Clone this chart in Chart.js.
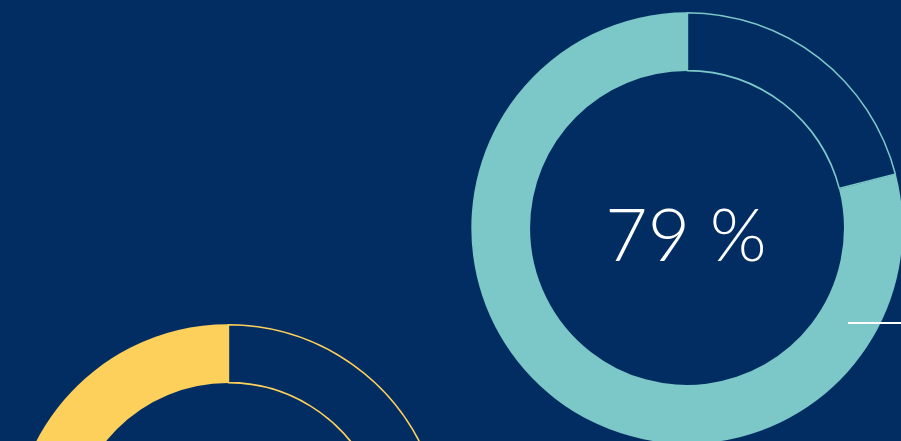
<!DOCTYPE html>
<html>
<head>
<meta charset="utf-8">
<script src="https://cdn.jsdelivr.net/npm/chart.js@4.4.0/dist/chart.umd.min.js"></script>
<style>
    html, body {
        margin: 0;
        padding: 0;
        width: 901px;
        height: 441px;
        overflow: hidden;
        background: #022d62;
    }
    canvas {
        position: absolute;
    }
    #chartTeal {
        left: 471px;
        top: 12px;
    }
    #chartAmarelo {
        left: 12px;
        top: 324px;
    }
    #linha {
        position: absolute;
        left: 848px;
        top: 322px;
        width: 53px;
        height: 2px;
        background: #ffffff;
    }
</style>
</head>
<body>
<canvas id="chartAmarelo" width="432" height="432"></canvas>
<canvas id="chartTeal" width="432" height="432"></canvas>
<div id="linha"></div>
<script>
    // valores em porcentagem
    const categorias = ['Restante', 'Valor'];
    const valorTeal = [21, 79];
    const valorAmarelo = [35, 65];
    const rotuloTeal = '79 %';

    const fundo = '#022d62';
    const corTeal = '#7cc8c8';
    const corAmarelo = '#fcd05a';

    const textoCentro = {
        id: 'textoCentro',
        afterDraw(chart, args, opts) {
            if (!opts.texto) return;
            const ctx = chart.ctx;
            const meta = chart.getDatasetMeta(0).data[0];
            ctx.save();
            ctx.fillStyle = '#ffffff';
            ctx.font = '300 73px Lato';
            ctx.textAlign = 'center';
            ctx.textBaseline = 'alphabetic';
            ctx.fillText(opts.texto, meta.x - 1, meta.y + 33);
            ctx.restore();
        }
    };

    function criarDonut(id, valores, cor, texto) {
        return new Chart(document.getElementById(id), {
            type: 'doughnut',
            data: {
                labels: categorias,
                datasets: [{
                    data: valores,
                    backgroundColor: [fundo, cor],
                    borderColor: [cor, cor],
                    borderWidth: [1.2, 0],
                    borderAlign: 'inner'
                }]
            },
            options: {
                responsive: false,
                animation: false,
                cutout: '72.5%',
                layout: { padding: 0 },
                plugins: {
                    legend: { display: false },
                    tooltip: { enabled: false },
                    textoCentro: { texto: texto }
                }
            },
            plugins: [textoCentro]
        });
    }

    var chartAmarelo1 = criarDonut('chartAmarelo', valorAmarelo, corAmarelo, '');
    var chartTeal1 = criarDonut('chartTeal', valorTeal, corTeal, rotuloTeal);
</script>
</body>
</html>
